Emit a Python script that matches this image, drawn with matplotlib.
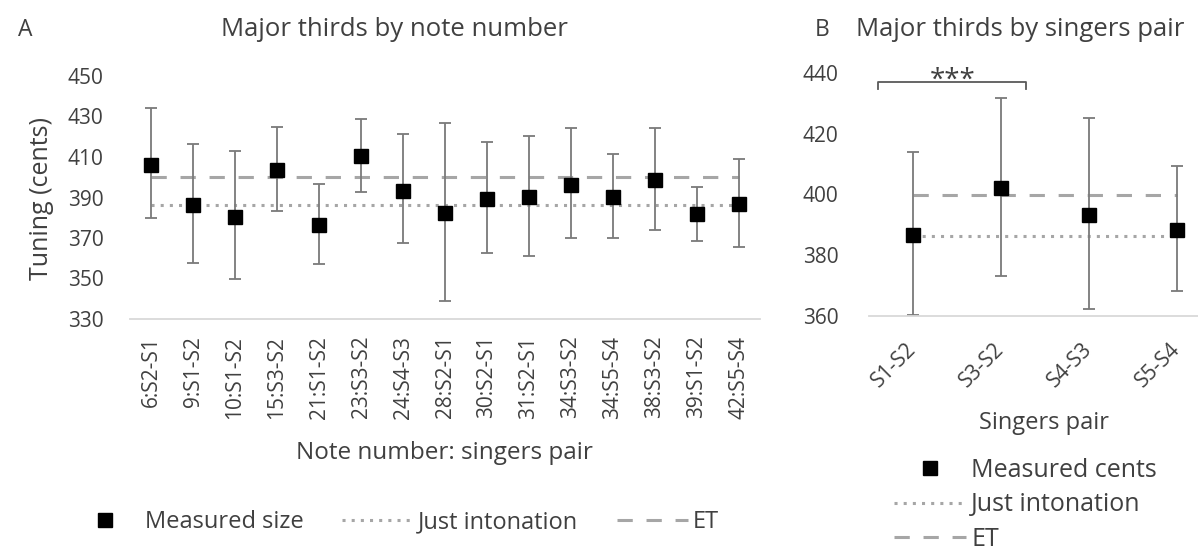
import matplotlib.pyplot as plt

plt.rcParams['font.family'] = ['Open Sans', 'DejaVu Sans']

# Panel A: major thirds by note number
note_labels = ["6:S2-S1", "9:S1-S2", "10:S1-S2", "15:S3-S2", "21:S1-S2", "23:S3-S2",
               "24:S4-S3", "28:S2-S1", "30:S2-S1", "31:S2-S1", "34:S3-S2", "34:S5-S4",
               "38:S3-S2", "39:S1-S2", "42:S5-S4"]
note_mean = [406, 386.3, 380.5, 403.6, 376.4, 410.5, 393.4, 382.2, 389.3, 390.1,
             396.2, 390.4, 398.6, 381.7, 386.8]
note_upper = [434, 416.4, 413, 425, 396.7, 429, 421.2, 427, 417.3, 420.4,
              424.2, 411.3, 424.3, 395.3, 408.9]
note_lower = [379.7, 357.5, 350, 383.5, 357.2, 392.9, 367.4, 339, 362.4, 361.3,
              370.2, 369.8, 374, 368.5, 365.7]

# Panel B: major thirds by singers pair
pair_labels = ["S1-S2", "S3-S2", "S4-S3", "S5-S4"]
pair_mean = [386.7, 402.1, 393.3, 388.4]
pair_upper = [414, 431.7, 425.1, 409.4]
pair_lower = [360.4, 373.2, 362.4, 368.3]

just_intonation = 386.3
equal_temperament = 400

text_col = '#404040'
grey = '#a6a6a6'
bar_col = '#7a7a7a'

fig = plt.figure(figsize=(11.98, 5.55), dpi=100)
W, H = 1198, 555


def axes_px(x0, y_top, x1, y_bot):
    return fig.add_axes([x0 / W, 1 - y_bot / H, (x1 - x0) / W, (y_bot - y_top) / H])


def draw_panel(ax, labels, mean, upper, lower):
    x = list(range(len(labels)))
    err = [[m - lo for m, lo in zip(mean, lower)], [up - m for m, up in zip(mean, upper)]]
    ji, = ax.plot([x[0], x[-1]], [just_intonation] * 2, color=grey, lw=2.2,
                  linestyle=(0, (1, 2)), zorder=1)
    et, = ax.plot([x[0], x[-1]], [equal_temperament] * 2, color=grey, lw=2.2,
                  linestyle=(0, (5, 4.5)), zorder=1)
    ax.errorbar(x, mean, yerr=err, fmt='none', ecolor=bar_col, elinewidth=1.3,
                capsize=4, capthick=1.3, zorder=2)
    pts, = ax.plot(x, mean, 's', color='black', markersize=9.5, zorder=3, linestyle='none')
    ax.set_xlim(-0.5, len(labels) - 0.5)
    ax.set_xticks(x)
    for s in ['top', 'right', 'left']:
        ax.spines[s].set_visible(False)
    ax.spines['bottom'].set_color('#d9d9d9')
    ax.spines['bottom'].set_linewidth(1.3)
    ax.tick_params(length=0, labelsize=15, colors=text_col)
    return pts, ji, et


# ---- panel A
axA = axes_px(130, 76, 760, 319)
hA = draw_panel(axA, note_labels, note_mean, note_upper, note_lower)
axA.set_ylim(330, 450)
axA.set_yticks(range(330, 451, 20))
axA.set_xticklabels(note_labels, rotation=90, va='top', fontsize=15)
axA.tick_params(axis='y', pad=19)
axA.tick_params(axis='x', pad=12)

fig.text(18 / W, 1 - 30 / H, 'A', fontsize=16.5, color=text_col, va='center')
fig.text(394 / W, 1 - 30 / H, 'Major thirds by note number', fontsize=18.5,
         color=text_col, ha='center', va='center')
fig.text(42 / W, 1 - 199 / H, 'Tuning (cents)', fontsize=18, color=text_col,
         rotation=90, ha='center', va='center')
fig.text(444 / W, 1 - 453 / H, 'Note number: singers pair', fontsize=17.5,
         color=text_col, ha='center', va='center')

fig.legend(hA, ['Measured size', 'Just intonation', 'ET'], ncol=3,
           loc='center', bbox_to_anchor=(394 / W, 1 - 522 / H), frameon=False,
           fontsize=17, handlelength=3.0, handletextpad=0.2, columnspacing=1.65,
           labelcolor=text_col)

# ---- panel B
axB = axes_px(869, 73, 1221, 316)
hB = draw_panel(axB, pair_labels, pair_mean, pair_upper, pair_lower)
axB.set_ylim(360, 440)
axB.set_yticks(range(360, 441, 20))
axB.set_xticklabels(pair_labels, rotation=45, ha='right', va='center',
                    rotation_mode='anchor', fontsize=15)
axB.tick_params(axis='y', pad=22)
axB.tick_params(axis='x', pad=22)

# significance bracket between S1-S2 and S3-S2
axB.plot([-0.4, -0.4, 1.28, 1.28], [434.6, 437, 437, 434.6], color='#595959',
         lw=1.3, clip_on=False)
axB.text(0.45, 435.3, '***', ha='center', va='baseline', fontsize=20, color=text_col)

fig.text(815 / W, 1 - 30 / H, 'B', fontsize=16.5, color=text_col, va='center')
fig.text(1020 / W, 1 - 30 / H, 'Major thirds by singers pair', fontsize=18.5,
         color=text_col, ha='center', va='center')
fig.text(1044 / W, 1 - 423 / H, 'Singers pair', fontsize=17, color=text_col,
         ha='center', va='center')

fig.legend(hB, ['Measured cents', 'Just intonation', 'ET'], ncol=1,
           loc='center left', bbox_to_anchor=(871 / W, 1 - 505 / H), frameon=False,
           fontsize=18, handlelength=2.9, handletextpad=0.2, labelspacing=0.38,
           labelcolor=text_col)

fig.savefig('out.png', dpi=100)
